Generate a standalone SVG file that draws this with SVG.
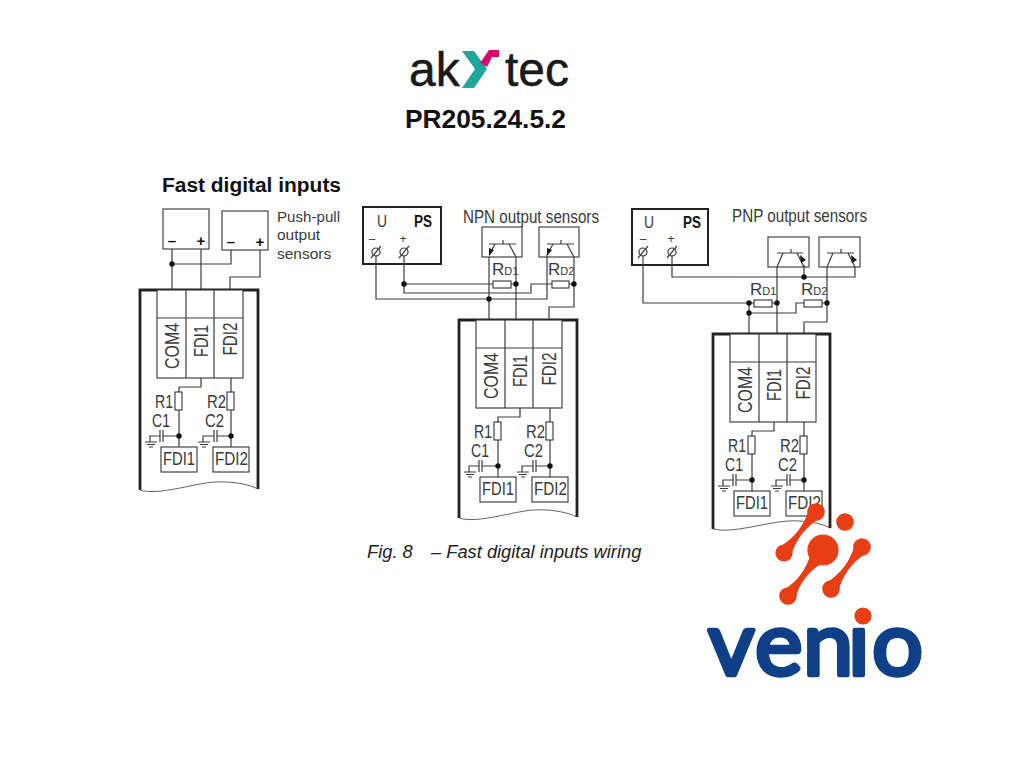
<svg xmlns="http://www.w3.org/2000/svg" width="1024" height="768" viewBox="0 0 1024 768">
<style>
.t{font-family:"Liberation Sans",Arial,sans-serif;fill:#3a3a3a}
.b{font-family:"Liberation Sans",Arial,sans-serif;font-weight:700;fill:#111}
.w{fill:none;stroke:#3c3c3c;stroke-width:1.2}
.box{fill:#fff;stroke:#333;stroke-width:1.1}
.thick{fill:none;stroke:#222;stroke-width:2.8}
.d{fill:#111}
.org{fill:#e83e14}
.lbl{font-size:21px}
.rc{font-size:18px}
.fd{font-size:18px}
</style>
<defs><clipPath id="no-dot"><rect x="690" y="627" width="260" height="60"/></clipPath></defs>
<rect width="1024" height="768" fill="#fff"/>
<g id="logo-akytec">
<text x="409" y="86" class="t" style="fill:#1a1a1a;stroke:#1a1a1a;stroke-width:.5" font-size="48">ak</text>
<polygon points="462,51 474,51 487,69 474,88 462,88 475,69" fill="#1fa79b"/>
<polygon points="480,63 489,50 499,50 499,57 492,57 487,67" fill="#d6086e"/>
<text x="505" y="86" class="t" style="fill:#1a1a1a;stroke:#1a1a1a;stroke-width:.5" font-size="48">tec</text>
</g>
<text id="model" x="405" y="128" class="b" font-size="25" textLength="161" lengthAdjust="spacingAndGlyphs">PR205.24.5.2</text>
<text id="section-title" x="162" y="192" class="b" font-size="19.5" textLength="179" lengthAdjust="spacingAndGlyphs">Fast digital inputs</text>
<g id="labels">
<text x="277" y="222" class="t" font-size="15.5" textLength="63" lengthAdjust="spacingAndGlyphs">Push-pull</text>
<text x="277" y="240" class="t" font-size="15.5">output</text>
<text x="277" y="259" class="t" font-size="15.5">sensors</text>
<text x="463" y="223" class="t" font-size="17.5" textLength="136" lengthAdjust="spacingAndGlyphs">NPN output sensors</text>
<text x="732" y="222" class="t" font-size="17.5" textLength="135" lengthAdjust="spacingAndGlyphs">PNP output sensors</text>
<text x="492" y="275" class="t" font-size="17">R<tspan font-size="11">D1</tspan></text>
<text x="548" y="275" class="t" font-size="17">R<tspan font-size="11">D2</tspan></text>
<text x="750" y="295" class="t" font-size="17">R<tspan font-size="11">D1</tspan></text>
<text x="801" y="295" class="t" font-size="17">R<tspan font-size="11">D2</tspan></text>
</g>
<text id="caption" y="558" class="t" font-size="18.3" font-style="italic" style="fill:#222"><tspan x="367">Fig. 8</tspan><tspan x="431">– Fast digital inputs wiring</tspan></text>

<g id="sensor-pp1"><rect class="box" x="163" y="209" width="46" height="40"/><text x="172" y="246" text-anchor="middle" class="b" font-size="15">–</text><text x="201" y="246" text-anchor="middle" class="b" font-size="15">+</text></g>
<g id="sensor-pp2"><rect class="box" x="222" y="211" width="46" height="39"/><text x="231" y="247" text-anchor="middle" class="b" font-size="15">–</text><text x="260" y="247" text-anchor="middle" class="b" font-size="15">+</text></g>

<g id="ps-npn">
<rect x="363" y="207" width="78" height="57" fill="#fff" stroke="#222" stroke-width="2"/>
<text x="382" y="227" text-anchor="middle" class="t" font-size="16" textLength="10" lengthAdjust="spacingAndGlyphs">U</text>
<text x="423" y="227" text-anchor="middle" class="b" font-size="16" textLength="18" lengthAdjust="spacingAndGlyphs">PS</text>
<text x="372" y="243" text-anchor="middle" class="t" font-size="12">–</text>
<text x="403" y="243" text-anchor="middle" class="t" font-size="12">+</text>
<circle class="w" cx="376" cy="252" r="4"/><path class="w" d="M371 258L381 246"/>
<circle class="w" cx="404" cy="252" r="4"/><path class="w" d="M399 258L409 246"/>
</g>
<g id="ps-pnp">
<rect x="632" y="209" width="76" height="56" fill="#fff" stroke="#222" stroke-width="2"/>
<text x="649" y="228" text-anchor="middle" class="t" font-size="16" textLength="10" lengthAdjust="spacingAndGlyphs">U</text>
<text x="692" y="228" text-anchor="middle" class="b" font-size="16" textLength="18" lengthAdjust="spacingAndGlyphs">PS</text>
<text x="643" y="243" text-anchor="middle" class="t" font-size="12">–</text>
<text x="671" y="243" text-anchor="middle" class="t" font-size="12">+</text>
<circle class="w" cx="643" cy="252" r="4"/><path class="w" d="M638 258L648 246"/>
<circle class="w" cx="672" cy="252" r="4"/><path class="w" d="M667 258L677 246"/>
</g>
<g id="sensor-npn1"><rect class="box" x="482" y="227" width="40" height="30"/><path class="w" d="M489 244H516M503 240V244M495 244L489 255M509 244L516 257"/><polygon class="d" points="489,256 489,248 494,250"/></g>
<g id="sensor-npn2"><rect class="box" x="539" y="227" width="40" height="30"/><path class="w" d="M547 244H574M561 240V244M553 244L547 255M567 244L574 257"/><polygon class="d" points="547,256 547,248 552,250"/></g>
<g id="sensor-pnp1"><rect class="box" x="768" y="237" width="41" height="30"/><path class="w" d="M777 253H803M791 249V253M783 253L777 267M797 253L804 267"/><polygon class="d" points="800,255 801,263 806,260"/></g>
<g id="sensor-pnp2"><rect class="box" x="819" y="237" width="41" height="30"/><path class="w" d="M827 253H854M841 249V253M833 253L827 267M848 253L855 267"/><polygon class="d" points="851,255 852,263 857,260"/></g>

<g id="connectors">
<path class="w" d="M172 249V290M172 264H231V250M201 249V290M260 250V277H230V290"/>
<circle class="d" cx="172" cy="264" r="2.7"/>
<path class="w" d="M376 256V299H547V255M404 256V293H531V284H552M404 284H493M511 284H516M569 284H574M489 257V319M516 257V319M574 257V307H549V319"/>
<circle class="d" cx="404" cy="284" r="2.7"/><circle class="d" cx="516" cy="284" r="2.7"/><circle class="d" cx="574" cy="284" r="2.7"/><circle class="d" cx="489" cy="299" r="2.7"/>
<path class="w" d="M643 256V303H754M772 303H777M749 303V333M749 313H796V303H804M822 303H827M777 267V333M827 267V322H804V333M672 256V277H855V267M804 277V265"/>
<circle class="d" cx="749" cy="303" r="2.7"/><circle class="d" cx="777" cy="303" r="2.7"/><circle class="d" cx="749" cy="313" r="2.7"/><circle class="d" cx="827" cy="303" r="2.7"/><circle class="d" cx="804" cy="277" r="2.7"/>
</g>
<g id="resistors-top">
<rect class="box" x="493" y="281" width="18" height="7"/><rect class="box" x="552" y="281" width="17" height="7"/>
<rect class="box" x="754" y="300" width="18" height="7"/><rect class="box" x="804" y="300" width="18" height="7"/>
</g>

<g id="module-1">
<path class="thick" d="M140 490V290H258V489"/>
<path class="w" style="stroke-width:.8" d="M140 490C158 496 195 483 215 482C235 481 250 485 258 489"/>
<rect class="box" x="157" y="290" width="86" height="88"/>
<path class="w" d="M186 290V378M214 290V378M157 318H243"/>
<text transform="rotate(-90 179 346)" x="179" y="346" text-anchor="middle" class="t lbl" textLength="46" lengthAdjust="spacingAndGlyphs">COM4</text>
<text transform="rotate(-90 208 341)" x="208" y="341" text-anchor="middle" class="t lbl" textLength="32" lengthAdjust="spacingAndGlyphs">FDI1</text>
<text transform="rotate(-90 237 339)" x="237" y="339" text-anchor="middle" class="t lbl" textLength="33" lengthAdjust="spacingAndGlyphs">FDI2</text>
<path class="w" d="M201 378V387H179V392M179 410V447M231 378V392M231 410V447M179 436H163M160 436H150V442M145 442H157M147 444.500H155M149 447H153M231 436H217M214 436H203V442M198 442H210M200 444.500H208M202 447H206M160 430V442M163 430V442M214 430V442M217 430V442"/>
<rect class="box" x="175" y="392" width="7" height="18"/><rect class="box" x="227" y="392" width="7" height="18"/>
<circle class="d" cx="179" cy="436" r="2.7"/><circle class="d" cx="231" cy="436" r="2.7"/>
<rect class="box" x="161" y="447" width="36" height="25"/><rect class="box" x="213" y="447" width="36" height="25"/>
<text x="163" y="465" class="t fd" textLength="32" lengthAdjust="spacingAndGlyphs">FDI1</text>
<text x="215" y="465" class="t fd" textLength="33" lengthAdjust="spacingAndGlyphs">FDI2</text>
<text x="155" y="408" class="t rc" textLength="18" lengthAdjust="spacingAndGlyphs">R1</text>
<text x="152" y="427" class="t rc" textLength="18" lengthAdjust="spacingAndGlyphs">C1</text>
<text x="207" y="408" class="t rc" textLength="19" lengthAdjust="spacingAndGlyphs">R2</text>
<text x="205" y="427" class="t rc" textLength="19" lengthAdjust="spacingAndGlyphs">C2</text>
</g>

<g id="module-2" transform="translate(319 30)">
<path class="thick" d="M140 488V290H258V487"/>
<path class="w" style="stroke-width:.8" d="M140 488C158 494 195 481 215 480C235 479 250 483 258 487"/>
<rect class="box" x="157" y="290" width="86" height="88"/>
<path class="w" d="M186 290V378M214 290V378M157 318H243"/>
<text transform="rotate(-90 179 346)" x="179" y="346" text-anchor="middle" class="t lbl" textLength="46" lengthAdjust="spacingAndGlyphs">COM4</text>
<text transform="rotate(-90 208 341)" x="208" y="341" text-anchor="middle" class="t lbl" textLength="32" lengthAdjust="spacingAndGlyphs">FDI1</text>
<text transform="rotate(-90 237 339)" x="237" y="339" text-anchor="middle" class="t lbl" textLength="33" lengthAdjust="spacingAndGlyphs">FDI2</text>
<path class="w" d="M201 378V387H179V392M179 410V447M231 378V392M231 410V447M179 436H163M160 436H150V442M145 442H157M147 444.500H155M149 447H153M231 436H217M214 436H203V442M198 442H210M200 444.500H208M202 447H206M160 430V442M163 430V442M214 430V442M217 430V442"/>
<rect class="box" x="175" y="392" width="7" height="18"/><rect class="box" x="227" y="392" width="7" height="18"/>
<circle class="d" cx="179" cy="436" r="2.7"/><circle class="d" cx="231" cy="436" r="2.7"/>
<rect class="box" x="161" y="447" width="36" height="25"/><rect class="box" x="213" y="447" width="36" height="25"/>
<text x="163" y="465" class="t fd" textLength="32" lengthAdjust="spacingAndGlyphs">FDI1</text>
<text x="215" y="465" class="t fd" textLength="33" lengthAdjust="spacingAndGlyphs">FDI2</text>
<text x="155" y="408" class="t rc" textLength="18" lengthAdjust="spacingAndGlyphs">R1</text>
<text x="152" y="427" class="t rc" textLength="18" lengthAdjust="spacingAndGlyphs">C1</text>
<text x="207" y="408" class="t rc" textLength="19" lengthAdjust="spacingAndGlyphs">R2</text>
<text x="205" y="427" class="t rc" textLength="19" lengthAdjust="spacingAndGlyphs">C2</text>
</g>

<g id="module-3" transform="translate(573 44)">
<path class="thick" d="M140 485V290H257V484"/>
<path class="w" style="stroke-width:.8" d="M140 485C158 490 195 478 215 477C235 476 250 480 257 484"/>
<rect class="box" x="157" y="290" width="86" height="88"/>
<path class="w" d="M186 290V378M214 290V378M157 318H243"/>
<text transform="rotate(-90 179 346)" x="179" y="346" text-anchor="middle" class="t lbl" textLength="46" lengthAdjust="spacingAndGlyphs">COM4</text>
<text transform="rotate(-90 208 341)" x="208" y="341" text-anchor="middle" class="t lbl" textLength="32" lengthAdjust="spacingAndGlyphs">FDI1</text>
<text transform="rotate(-90 237 339)" x="237" y="339" text-anchor="middle" class="t lbl" textLength="33" lengthAdjust="spacingAndGlyphs">FDI2</text>
<path class="w" d="M201 378V387H179V392M179 410V447M231 378V392M231 410V447M179 436H163M160 436H150V442M145 442H157M147 444.500H155M149 447H153M231 436H217M214 436H203V442M198 442H210M200 444.500H208M202 447H206M160 430V442M163 430V442M214 430V442M217 430V442"/>
<rect class="box" x="175" y="392" width="7" height="18"/><rect class="box" x="227" y="392" width="7" height="18"/>
<circle class="d" cx="179" cy="436" r="2.7"/><circle class="d" cx="231" cy="436" r="2.7"/>
<rect class="box" x="161" y="447" width="36" height="25"/><rect class="box" x="213" y="447" width="36" height="25"/>
<text x="163" y="465" class="t fd" textLength="32" lengthAdjust="spacingAndGlyphs">FDI1</text>
<text x="215" y="465" class="t fd" textLength="33" lengthAdjust="spacingAndGlyphs">FDI2</text>
<text x="155" y="408" class="t rc" textLength="18" lengthAdjust="spacingAndGlyphs">R1</text>
<text x="152" y="427" class="t rc" textLength="18" lengthAdjust="spacingAndGlyphs">C1</text>
<text x="207" y="408" class="t rc" textLength="19" lengthAdjust="spacingAndGlyphs">R2</text>
<text x="205" y="427" class="t rc" textLength="19" lengthAdjust="spacingAndGlyphs">C2</text>
</g>

<g id="logo-venio">
<text clip-path="url(#no-dot)" y="675" x="708 755 803 848 872" font-family="Lato,'Open Sans',sans-serif" font-weight="400" font-size="90" fill="#0e3f87" stroke="#0e3f87" stroke-width="4.500" stroke-linejoin="round">venio</text>
<g class="org" stroke="#e83e14" stroke-width="1.2">
<circle cx="816" cy="512" r="8.200"/><circle cx="784" cy="553" r="8"/>
<path d="M821.900 516.600Q797.200 530.300 789.900 557.600L778.100 548.400Q802.800 534.700 810.100 507.400Z"/>
<circle cx="845" cy="522" r="8.200"/>
<circle cx="823" cy="550" r="15"/><circle cx="788" cy="596" r="8.200"/>
<path d="M832.600 557.300Q801.700 570.100 794 600.500L782 591.500Q809.300 575.900 813.400 542.700Z"/>
<circle cx="862" cy="547" r="8.200"/><circle cx="831" cy="589" r="8.200"/>
<path d="M868 551.500Q843.700 565.900 837 593.500L825 584.500Q849.300 570.100 856 542.500Z"/>
<circle cx="863" cy="616" r="8"/>
</g>
</g>
</svg>
